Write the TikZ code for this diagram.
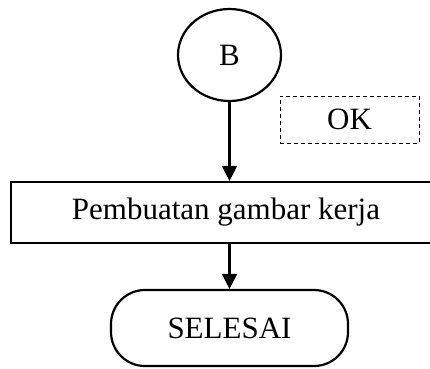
\documentclass[tikz,border=0pt]{standalone}
\usepackage{fontspec}
\setmainfont{Liberation Serif}
\usetikzlibrary{shapes.geometric,arrows.meta}
\begin{document}
\begin{tikzpicture}[x=1pt,y=-1pt,
  every node/.style={font=\fontsize{31}{36}\selectfont, inner sep=0pt},
  solidline/.style={draw=black, line width=2.2pt},
  flowarrow/.style={draw=black, line width=2.2pt, -{Triangle[length=15pt,width=15pt]}},
]
\useasboundingbox (0,0) rectangle (430,368);
\node[ellipse, solidline, minimum width=103pt, minimum height=92pt] (b) at (229.5,55) {B};
\node[draw=black, line width=1pt, dash pattern=on 4pt off 3pt, minimum width=139pt, minimum height=47pt] (ok) at (349.5,119.5) {OK};
\node[solidline, minimum width=430pt, minimum height=61pt] (proc) at (226,212.5) {Pembuatan gambar kerja};
\node[solidline, rounded corners=34pt, minimum width=237pt, minimum height=76pt] (end) at (229.5,328) {SELESAI};
\draw[flowarrow] (b.south) -- (b.south |- proc.north);
\draw[flowarrow] (b.south |- proc.south) -- (end.north);
\end{tikzpicture}
\end{document}
